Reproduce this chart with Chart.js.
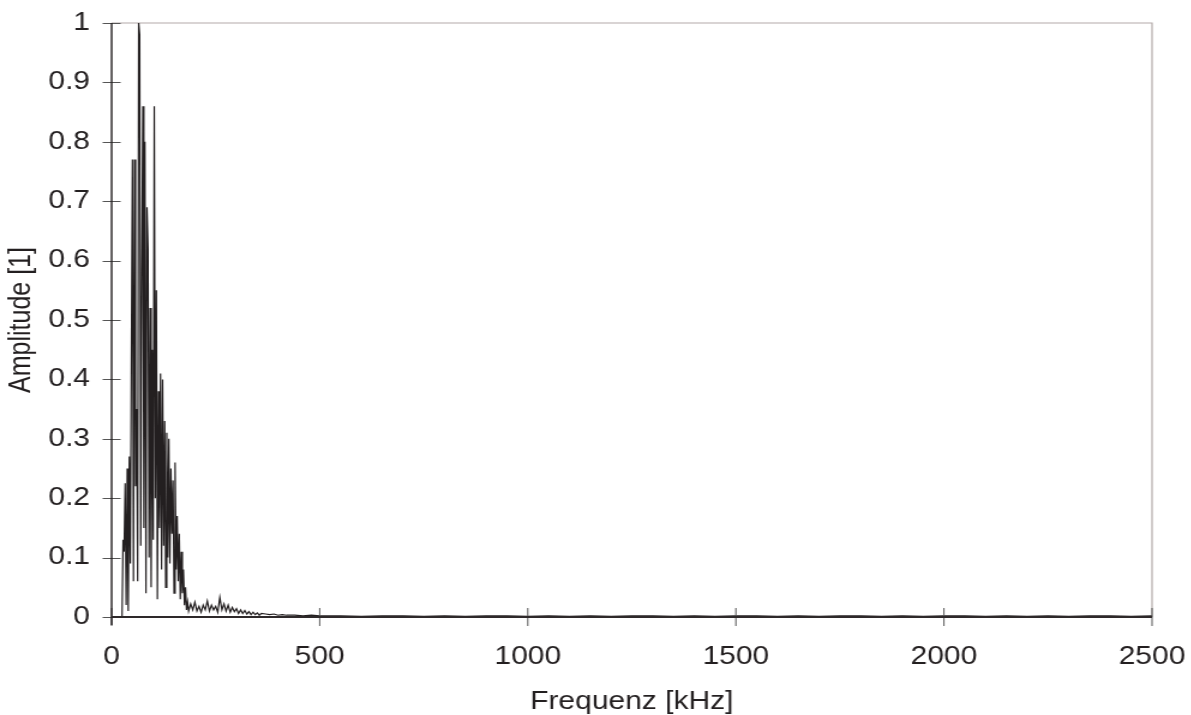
<!DOCTYPE html>
<html>
<head>
<meta charset="utf-8">
<script src="https://cdn.jsdelivr.net/npm/chart.js@4/dist/chart.umd.min.js"></script>
<style>
  html, body { margin: 0; padding: 0; background: #fff; overflow: hidden; }
  /* the original picture is stretched sideways, so the canvas is too */
  #c { display: block; transform: scaleX(1.2); transform-origin: 0 0; }
</style>
</head>
<body>
<canvas id="c" width="993" height="715"></canvas>
<script>
// Daten
const freqKHz = [
  0, 25, 27.5, 30, 32.5, 35, 37.5, 40, 42.5, 45, 47.5, 50, 52.5, 55, 57.5, 60, 62.5, 65, 67.5, 70,
  72.5, 75, 77.5, 80, 82.5, 85, 87.5, 90, 92.5, 95, 97.5, 100, 102.5, 105, 107.5, 110, 112.5, 115,
  117.5, 120, 122.5, 125, 127.5, 130, 132.5, 135, 137.5, 140, 142.5, 145, 147.5, 150, 152.5, 155,
  157.5, 160, 162.5, 165, 167.5, 170, 172.5, 175, 177.5, 180, 182.5,
  185, 190, 195, 200, 205, 210, 215, 220, 225, 230, 235, 240, 245, 250, 255, 260, 265, 270, 275,
  280, 285, 290, 295, 300, 305, 310, 315, 320, 325, 330, 335, 340, 345, 350, 355, 360, 370, 380,
  390, 400, 410, 420, 440, 460, 480, 500,
  550, 600, 650, 700, 750, 800, 850, 900, 950, 1000, 1050, 1100, 1150, 1200, 1250, 1300, 1350,
  1400, 1450, 1500, 1550, 1600, 1650, 1700, 1750, 1800, 1850, 1900, 1950, 2000, 2050, 2100, 2150,
  2200, 2250, 2300, 2350, 2400, 2450, 2500
];
const amplitude = [
  0, 0, 0.13, 0.11, 0.225, 0.02, 0.25, 0.01, 0.27, 0.09, 0.45, 0.77, 0.06, 0.77, 0.22, 0.35, 0.06, 1.0, 0.98, 0.12,
  0.58, 0.86, 0.15, 0.8, 0.04, 0.69, 0.62, 0.1, 0.52, 0.05, 0.45, 0.13, 0.86, 0.2, 0.55, 0.03, 0.38, 0.15,
  0.41, 0.08, 0.4, 0.12, 0.33, 0.05, 0.31, 0.1, 0.3, 0.09, 0.25, 0.14, 0.23, 0.04, 0.26, 0.08,
  0.17, 0.06, 0.14, 0.03, 0.11, 0.04, 0.08, 0.02, 0.05, 0.012, 0.025,
  0.01, 0.022, 0.012, 0.025, 0.01, 0.018, 0.008, 0.02, 0.012, 0.027, 0.01, 0.02, 0.012, 0.018, 0.008, 0.033, 0.012, 0.022, 0.01,
  0.02, 0.008, 0.016, 0.009, 0.014, 0.006, 0.012, 0.006, 0.011, 0.005, 0.009, 0.004, 0.008, 0.004, 0.007, 0.003, 0.006, 0.005, 0.004,
  0.005, 0.003, 0.004, 0.003, 0.003, 0.002, 0.003, 0.002,
  0.002, 0.001, 0.002, 0.002, 0.001, 0.002, 0.001, 0.002, 0.002, 0.001, 0.002, 0.001, 0.002, 0.001, 0.002, 0.002, 0.001,
  0.002, 0.001, 0.002, 0.002, 0.001, 0.002, 0.001, 0.002, 0.002, 0.001, 0.002, 0.001, 0.002, 0.002, 0.001, 0.002, 0.001,
  0.002, 0.001, 0.002, 0.002, 0.001, 0.002, 0.001
];
const xTicks = [0, 500, 1000, 1500, 2000, 2500];
const yTicks = [0, 0.1, 0.2, 0.3, 0.4, 0.5, 0.6, 0.7, 0.8, 0.9, 1];

const ink = "#231f20";
const fontSpec = { family: "'Liberation Sans', Arial, sans-serif", size: 25, lineHeight: 1.2 };

// Skalen: feste Größe, kein Zusatzabstand für überstehende Beschriftungen
const fixSize = (prop, size) => (s) => {
  s[prop] = size;
  s.paddingLeft = 0;
  s.paddingRight = 0;
  s.paddingTop = 0;
  s.paddingBottom = 0;
};
const plainLabel = (v) => String(Math.round(v * 10) / 10);

// Rahmen oben/rechts, Achsen und Teilstriche, die die Achse kreuzen
const frameAndTicks = {
  id: "frameAndTicks",
  beforeDatasetsDraw(chart) {
    const ctx = chart.ctx;
    const a = chart.chartArea;
    ctx.save();
    ctx.strokeStyle = "#b3aaa9";
    ctx.lineWidth = 1.2;
    ctx.beginPath();
    ctx.moveTo(a.left, a.top);
    ctx.lineTo(a.right, a.top);
    ctx.lineTo(a.right, a.bottom);
    ctx.stroke();
    ctx.restore();
  },
  afterDraw(chart) {
    const ctx = chart.ctx;
    const a = chart.chartArea;
    const xs = chart.scales.x;
    const ys = chart.scales.y;
    ctx.save();
    ctx.strokeStyle = "#555";
    ctx.lineWidth = 1;
    ctx.beginPath();
    yTicks.forEach((v) => {
      const p = Math.round(ys.getPixelForValue(v)) + 0.5;
      ctx.moveTo(a.left - 7.5, p);
      ctx.lineTo(a.left + 7.5, p);
    });
    xTicks.forEach((v) => {
      const p = xs.getPixelForValue(v);
      ctx.moveTo(p, a.bottom - 9);
      ctx.lineTo(p, a.bottom + 9);
    });
    ctx.stroke();
    // Achsen
    ctx.strokeStyle = ink;
    ctx.lineWidth = 1.4;
    ctx.beginPath();
    ctx.moveTo(a.left, a.top);
    ctx.lineTo(a.left, a.bottom + 8);
    ctx.stroke();
    ctx.strokeStyle = "#2e292a";
    ctx.lineWidth = 1.8;
    ctx.beginPath();
    ctx.moveTo(a.left, a.bottom);
    ctx.lineTo(a.right, a.bottom);
    ctx.stroke();
    ctx.restore();
  },
};

let context = document.getElementById("c").getContext("2d");
let chart = new Chart(context, {
  type: "scatter",
  data: {
    datasets: [
      {
        data: freqKHz.map((f, i) => ({ x: f, y: amplitude[i] })),
        showLine: true,
        pointRadius: 0,
        borderColor: ink,
        borderWidth: 1.2,
        tension: 0,
      },
    ],
  },
  options: {
    responsive: false,
    animation: false,
    devicePixelRatio: 1,
    layout: { padding: { left: 0, right: 33, top: 23, bottom: 0 } },
    plugins: { legend: { display: false }, tooltip: { enabled: false } },
    scales: {
      x: {
        type: "linear",
        min: 0,
        max: 2500,
        afterBuildTicks: (s) => { s.ticks = xTicks.map((v) => ({ value: v })); },
        afterFit: fixSize("height", 98),
        grid: { display: true, drawOnChartArea: false, drawTicks: false },
        border: { display: false },
        ticks: { color: ink, font: fontSpec, padding: 25, maxRotation: 0, callback: plainLabel },
        title: { display: true, text: "Frequenz [kHz]", color: ink, font: fontSpec, padding: { top: 0, bottom: -2 } },
      },
      y: {
        min: 0,
        max: 1,
        afterBuildTicks: (s) => { s.ticks = yTicks.map((v) => ({ value: v })); },
        afterFit: fixSize("width", 93),
        grid: { display: true, drawOnChartArea: false, drawTicks: false },
        border: { display: false },
        ticks: { color: ink, font: fontSpec, padding: 18, callback: plainLabel },
        title: { display: true, text: "Amplitude [1]", color: ink, font: fontSpec, padding: { top: 3, bottom: 0 } },
      },
    },
  },
  plugins: [frameAndTicks],
});
</script>
</body>
</html>
